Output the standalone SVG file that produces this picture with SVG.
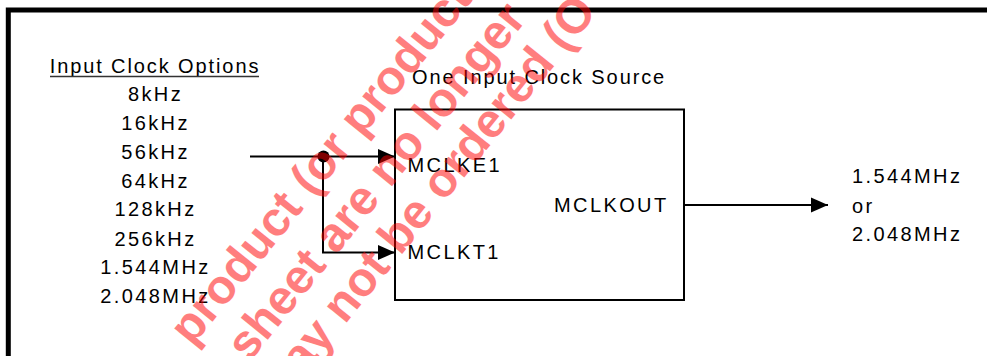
<svg xmlns="http://www.w3.org/2000/svg" width="987" height="356" viewBox="0 0 987 356">
<style>
  .t { font-family: "Liberation Sans", Arial, sans-serif; font-size: 20px; fill: #000; letter-spacing: 2.4px; }
  .tt { letter-spacing: 1.9px; }
  .ln { fill: none; stroke: #000; stroke-width: 2; }
  .wm { font-family: "Liberation Sans", Arial, sans-serif; font-size: 48px; font-weight: bold; fill: #ff0000; }
</style>
<defs>
  <marker id="arr" markerUnits="userSpaceOnUse" markerWidth="18" markerHeight="16" refX="17" refY="8" orient="auto">
    <path d="M0,0.5 L17,8 L0,15.5 z" fill="#000"/>
  </marker>
</defs>
<rect width="987" height="356" fill="#fff"/>
<path id="frame" d="M8.3,356 V10 H987" fill="none" stroke="#000" stroke-width="5"/>

<g id="input-options">
  <text class="t tt" x="155" y="73.3" text-anchor="middle">Input Clock Options</text>
  <line x1="50" y1="76.5" x2="259" y2="76.5" stroke="#333" stroke-width="1.5"/>
  <text class="t" x="155.5" y="101" text-anchor="middle">8kHz</text>
  <text class="t" x="155.5" y="130" text-anchor="middle">16kHz</text>
  <text class="t" x="155.5" y="158.7" text-anchor="middle">56kHz</text>
  <text class="t" x="155.5" y="187.7" text-anchor="middle">64kHz</text>
  <text class="t" x="155.5" y="216.3" text-anchor="middle">128kHz</text>
  <text class="t" x="155.5" y="245.7" text-anchor="middle">256kHz</text>
  <text class="t" x="155.5" y="274" text-anchor="middle">1.544MHz</text>
  <text class="t" x="155.5" y="303.3" text-anchor="middle">2.048MHz</text>
</g>

<g id="source-label">
  <text class="t tt" x="412" y="84">One Input Clock Source</text>
</g>

<g id="clock-block">
  <rect x="395" y="109.5" width="289" height="190.5" fill="none" stroke="#000" stroke-width="2"/>
  <text class="t" x="407.5" y="171.7">MCLKE1</text>
  <text class="t" x="407.5" y="259.3">MCLKT1</text>
  <text class="t" x="554" y="211.7">MCLKOUT</text>
</g>

<g id="output">
  <text class="t" x="852" y="183.3">1.544MHz</text>
  <text class="t" x="852" y="212.7">or</text>
  <text class="t" x="852" y="240.7">2.048MHz</text>
</g>

<g id="connectors">
  <line class="ln" x1="250" y1="156.5" x2="395" y2="156.5" marker-end="url(#arr)"/>
  <path class="ln" d="M323,156.5 V252.5 H395" marker-end="url(#arr)"/>
  <line class="ln" x1="684" y1="205" x2="828" y2="205" marker-end="url(#arr)"/>
  <circle cx="323.5" cy="156.5" r="6" fill="#000"/>
</g>

<g id="watermark" opacity="0.5">
  <text class="wm" transform="translate(192,347) rotate(-51)">product (or product</text>
  <text class="wm" transform="translate(249,363) rotate(-51)" font-size="47">sheet are no longer</text>
  <text class="wm" transform="translate(276,410) rotate(-51)">may not be ordered (O</text>
</g>
</svg>
